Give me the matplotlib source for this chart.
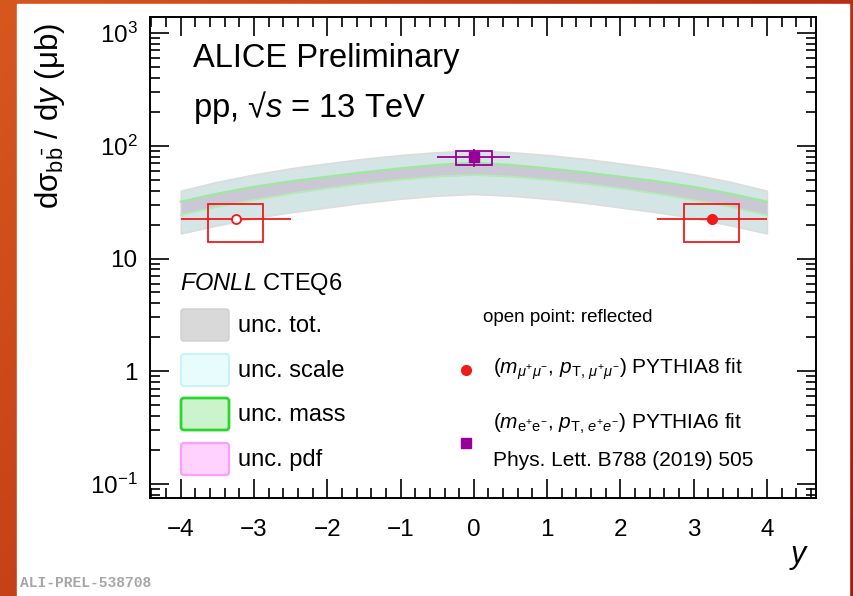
import numpy as np
import matplotlib
matplotlib.use('Agg')
import matplotlib.pyplot as plt
from matplotlib.patches import Rectangle, FancyBboxPatch
from matplotlib.ticker import MultipleLocator, LogLocator, NullFormatter, FixedLocator, FixedFormatter

plt.rcParams['font.family'] = ['Liberation Sans', 'DejaVu Sans']
plt.rcParams['mathtext.fontset'] = 'custom'
plt.rcParams['mathtext.rm'] = 'Liberation Sans'
plt.rcParams['mathtext.it'] = 'Liberation Sans:italic'
plt.rcParams['mathtext.bf'] = 'Liberation Sans:bold'

# FONLL band edges, rapidity grid
fonll_y = [-4, -3.5, -3, -2.5, -2, -1.5, -1, -0.5, 0, 0.5, 1, 1.5, 2, 2.5, 3, 3.5, 4]
tot_hi = [39.9, 47.9, 55.6, 63.1, 69.8, 76.7, 82.8, 87.7, 90.4, 87.7, 82.8, 76.7, 69.8, 63.1, 55.6, 47.9, 39.9]
tot_lo = [16.7, 19.7, 22.9, 25.7, 28.4, 31.3, 33.9, 36.1, 37.3, 36.1, 33.9, 31.3, 28.4, 25.7, 22.9, 19.7, 16.7]
inner_hi = [31.9, 37.6, 43.2, 48.4, 53.1, 58.2, 63.1, 67.6, 70.8, 67.6, 63.1, 58.2, 53.1, 48.4, 43.2, 37.6, 31.9]
inner_lo = [24.3, 28.8, 33.1, 37.6, 42.0, 46.2, 50.1, 53.3, 55.1, 53.3, 50.1, 46.2, 42.0, 37.6, 33.1, 28.8, 24.3]

# dimuon measurement (forward) and its reflection
mu_x = [3.25]
mu_val = [22.5]
mu_xerr = [0.75]
mu_stat = [0.5]
mu_syst_lo = [14.0]
mu_syst_hi = [30.4]
mu_box_w = 0.375
refl_x = [-3.25]

# dielectron measurement (midrapidity)
ee_x = [0.0]
ee_val = [79.0]
ee_xerr = [0.5]
ee_stat = [14.0]
ee_syst = [11.0]
ee_box_w = 0.25

W, H = 854, 596
fig = plt.figure(figsize=(W / 100, H / 100), dpi=100)

# orange slide frame
bg = fig.add_axes([0, 0, 1, 1], zorder=-10)
gx, gy = np.meshgrid(np.linspace(0, 1, 200), np.linspace(0, 1, 140))
t = np.clip(0.65 * gx + 0.35 * gy, 0, 1)[..., None]
c1 = np.array([214, 88, 30]) / 255.
c2 = np.array([168, 24, 12]) / 255.
bg.imshow(c1 * (1 - t) + c2 * t, aspect='auto', extent=[0, 1, 0, 1], origin='upper')
bg.add_patch(Rectangle((17 / W, 0), (849 - 17) / W, 1 - 4 / H, color='white', transform=bg.transAxes))
bg.set_xlim(0, 1); bg.set_ylim(0, 1)
bg.axis('off')

ax = fig.add_axes([150 / W, 1 - 498 / H, (816 - 150) / W, (498 - 17) / H])
ax.set_facecolor('none')
ax.set_yscale('log')
ax.set_xlim(-4.42, 4.67)
ax.set_ylim(10 ** -1.124, 10 ** 3.142)

# FONLL bands
ax.fill_between(fonll_y, tot_lo, tot_hi, color='#d3e5e4', lw=1.2, edgecolor='#dcdcdc', zorder=1)
ax.fill_between(fonll_y, inner_lo, inner_hi, color='#cbc8d5', lw=0, zorder=2)
ax.plot(fonll_y, inner_hi, color='#9de89d', lw=1.6, zorder=3)
ax.plot(fonll_y, inner_lo, color='#b2ecb2', lw=1.3, zorder=3)

red = '#f21a1a'
purple = '#990099'

# syst boxes
for x, lo, hi in zip(mu_x + refl_x, mu_syst_lo * 2, mu_syst_hi * 2):
    ax.add_patch(Rectangle((x - mu_box_w, lo), 2 * mu_box_w, hi - lo, fill=False,
                           edgecolor=red, lw=1.3, zorder=5))
for x, v, s in zip(ee_x, ee_val, ee_syst):
    ax.add_patch(Rectangle((x - ee_box_w, v - s), 2 * ee_box_w, 2 * s, fill=False,
                           edgecolor=purple, lw=1.3, zorder=5))

ax.errorbar(mu_x, mu_val, xerr=mu_xerr, yerr=mu_stat, fmt='o', color=red, ms=7,
            elinewidth=1.3, capsize=0, zorder=6)
ax.errorbar(refl_x, mu_val, xerr=mu_xerr, yerr=mu_stat, fmt='o', color=red, mfc='white',
            mec=red, mew=1.3, ms=6.5, elinewidth=1.3, capsize=0, zorder=6)
ax.errorbar(ee_x, ee_val, xerr=ee_xerr, yerr=ee_stat, fmt='s', color=purple, ms=6.5,
            elinewidth=1.3, capsize=0, zorder=6)

# axes style (ROOT-like)
for s in ax.spines.values():
    s.set_linewidth(1.4)
ax.xaxis.set_major_locator(MultipleLocator(1))
ax.xaxis.set_minor_locator(MultipleLocator(0.2))
ax.yaxis.set_major_locator(FixedLocator([0.1, 1, 10, 100, 1000]))
ax.yaxis.set_major_formatter(FixedFormatter([r'$10^{-1}$', '1', '10', r'$10^{2}$', r'$10^{3}$']))
ax.yaxis.set_minor_locator(LogLocator(base=10, subs=np.arange(2, 10), numticks=20))
ax.yaxis.set_minor_formatter(NullFormatter())
ax.tick_params(which='both', direction='in', top=True, right=True, width=1.2)
ax.tick_params(which='major', length=14, labelsize=17.5)
ax.tick_params(which='minor', length=7)
ax.tick_params(axis='x', which='major', pad=15)
ax.tick_params(axis='y', which='major', pad=9)
ax.set_xticks(range(-4, 5))
ax.set_xticklabels(['\u2212' + str(-i) if i < 0 else str(i) for i in range(-4, 5)])

ax.set_ylabel(r'd$\mathrm{\sigma}_{\mathrm{b\bar{b}}}$ / d$y$ ($\mathrm{\mu}$b)', fontsize=22.5,
              ha='center', va='center')
ax.yaxis.set_label_coords(-0.150, 0.795)
ax.set_xlabel(r'$y$', fontsize=22, ha='right', va='center')
ax.xaxis.set_label_coords(0.99, -0.123)

def fx(px):
    return px / W

def fy(py):
    return 1 - py / H

fig.text(fx(193), fy(58), 'ALICE Preliminary', fontsize=23.5, va='center')
fig.text(fx(193), fy(108), 'pp, \u221a$s$ = 13 TeV', fontsize=23.5, va='center')

fig.text(fx(180), fy(284), r'$\mathit{FONLL}$ CTEQ6', fontsize=17, va='center')

swatches = [('unc. tot.', '#d9d9d9', '#cfcfcf', 1.0, 309),
            ('unc. scale', '#e8fcfc', '#c9f3f7', 1.5, 354),
            ('unc. mass', '#ccf4cc', '#2ed52e', 2.0, 398),
            ('unc. pdf', '#ffd2ff', '#ff9cff', 1.6, 443)]
for lab, fc, ec, lw, top in swatches:
    p = FancyBboxPatch((181 / 100, (H - top - 32) / 100), 48 / 100, 32 / 100,
                       boxstyle='round,pad=0,rounding_size=0.03', facecolor=fc,
                       edgecolor=ec, lw=lw, transform=fig.dpi_scale_trans)
    fig.add_artist(p)
    fig.text(fx(238), fy(top + 17), lab, fontsize=17, va='center')

fig.text(fx(483), fy(318), 'open point: reflected', fontsize=13.5, va='center')
fig.add_artist(plt.Line2D([fx(466)], [fy(370)], marker='o', color=red, ms=7, transform=fig.transFigure))
fig.text(fx(493), fy(369), r'($m_{\mu^{+}\mu^{-}}$, $p_{\mathrm{T},\,\mu^{+}\mu^{-}}$) PYTHIA8 fit',
         fontsize=15, va='center')
fig.add_artist(plt.Line2D([fx(466)], [fy(443)], marker='s', color=purple, ms=6.5, transform=fig.transFigure))
fig.text(fx(493), fy(424), r'($m_{\mathrm{e^{+}e^{-}}}$, $p_{\mathrm{T},\,e^{+}e^{-}}$) PYTHIA6 fit',
         fontsize=15, va='center')
fig.text(fx(493), fy(461), 'Phys. Lett. B788 (2019) 505', fontsize=15, va='center')

fig.text(fx(20), fy(583), 'ALI-PREL-538708', fontsize=10.5, family='Liberation Mono',
         weight='bold', color='#a6a6a6', va='center')

fig.savefig('out.png', dpi=100)
